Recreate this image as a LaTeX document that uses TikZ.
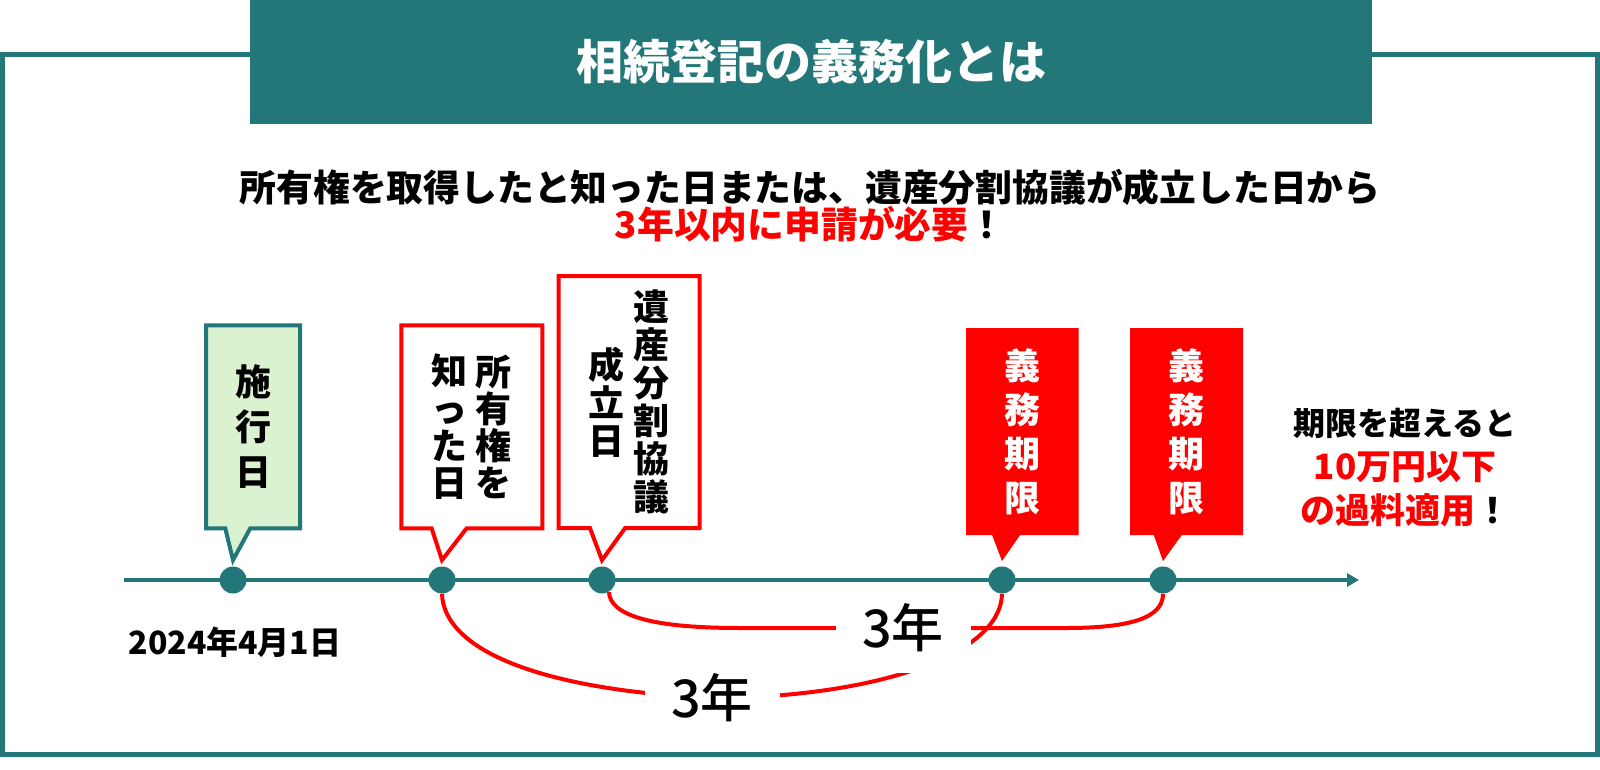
\documentclass[tikz,border=0pt]{standalone}
\usepackage{fontspec}
\setmainfont{Noto Sans CJK JP}
\newfontfamily\medfont{Noto Sans CJK JP Medium}
\usetikzlibrary{arrows.meta,shapes.callouts}

\definecolor{tealline}{RGB}{36,119,120}
\definecolor{palegreen}{RGB}{218,242,208}
\definecolor{alertred}{RGB}{255,0,0}

\newcommand\tatecol[2]{$\vcenter{\baselineskip=#1\lineskiplimit=-30pt\halign{\hfil##\hfil\cr#2\crcr}}$}

\tikzset{
  tldot/.style={circle,fill=tealline,minimum size=13.5pt,inner sep=0pt},
  tatebox/.style={rectangle callout,inner sep=0pt,font=\fontsize{18}{22}\selectfont\bfseries},
  greenbox/.style={tatebox,draw=tealline,line width=2pt,fill=palegreen,callout pointer width=12.5pt},
  redbox/.style={tatebox,draw=alertred,line width=2pt,fill=white,callout pointer width=17.5pt},
  redfill/.style={tatebox,fill=alertred,text=white,callout pointer width=14pt},
  redline/.style={draw=alertred,line width=2pt},
  yearlbl/.style={fill=white,inner sep=0pt,minimum width=67.5pt,minimum height=45pt,font=\fontsize{26}{26}\selectfont\medfont}
}

\begin{document}
\begin{tikzpicture}[x=0.5pt,y=-0.5pt]
  \useasboundingbox (0,0) rectangle (1600,770);
  \draw[tealline,line width=2.5pt] (2.5,55) rectangle (1597.5,754.5);
  \node[fill=tealline,text=white,inner sep=0pt,minimum width=561pt,minimum height=62pt,
    font=\fontsize{23.5}{24}\selectfont\bfseries] (title) at (811,62) {相続登記の義務化とは};

  \node[align=center,font=\fontsize{18.4}{18.5}\selectfont\bfseries] (lead) at (810,205.5)
    {所有権を取得したと知った日または、遺産分割協議が成立した日から\\\textcolor{alertred}{3年以内に申請が必要}！};

  \coordinate (tlstart) at (124,580);
  \coordinate (tlend) at (1359,580);
  \draw[tealline,line width=2pt,-{Triangle[length=6pt,width=6.5pt]}] (tlstart) -- (tlend);

  \node[tldot] (d1) at (233,580) {};
  \node[tldot] (d2) at (442,580) {};
  \node[tldot] (d3) at (602,580) {};
  \node[tldot] (d4) at (1002,580) {};
  \node[tldot] (d5) at (1163,580) {};

  \node[greenbox,minimum width=47pt,minimum height=101.5pt,
    callout absolute pointer={([yshift=3pt]d1.north)}] (shiko) at (253,426.8)
    {\tatecol{22.5pt}{施\cr 行\cr 日}};
  \node[redbox,minimum width=70.5pt,minimum height=101.5pt,
    callout absolute pointer={([yshift=3pt]d2.north)}] (shoyu) at (471.8,426.8)
    {\tatecol{18.6pt}{知\cr っ\cr た\cr 日}\hspace{4pt}\tatecol{18.6pt}{所\cr 有\cr 権\cr を}};
  \node[redbox,minimum width=70.5pt,minimum height=126pt,
    callout absolute pointer={([yshift=3pt]d3.north)}] (kyogi) at (629.2,402.2)
    {\tatecol{19pt}{成\cr 立\cr 日}\hspace{4.5pt}\tatecol{19pt}{遺\cr 産\cr 分\cr 割\cr 協\cr 議}};
  \node[redfill,minimum width=56.25pt,minimum height=103.5pt,
    callout absolute pointer={([yshift=2.5pt]d4.north)}] (kigen1) at (1022.3,431.5)
    {\tatecol{22pt}{義\cr 務\cr 期\cr 限}};
  \node[redfill,minimum width=56.5pt,minimum height=103.5pt,
    callout absolute pointer={([yshift=2.5pt]d5.north)}] (kigen2) at (1186.5,431.5)
    {\tatecol{22pt}{義\cr 務\cr 期\cr 限}};

  \node[font=\fontsize{16}{16}\selectfont\bfseries] (startday) at (235,642) {2024年4月1日};

  \node[align=center,font=\fontsize{17.5}{22}\selectfont\bfseries] (penalty) at (1405,468)
    {{\fontsize{16}{22}\selectfont 期限を超えると}\\\textcolor{alertred}{10万円以下}\\\textcolor{alertred}{の過料適用}！};

  \draw[redline] (d2.south) .. controls (444,650) and (540,690) .. (712,698) node[yearlbl] (yr2) {3年}
    .. controls (860,698) and (1000,660) .. (d4.south);
  \draw[redline] (d3.-60) .. controls (610,615) and (650,628) .. (740,628) -- node[yearlbl] (yr1) {3年} (1066,628)
    .. controls (1130,628) and (1163,618) .. (d5.south);
\end{tikzpicture}
\end{document}
